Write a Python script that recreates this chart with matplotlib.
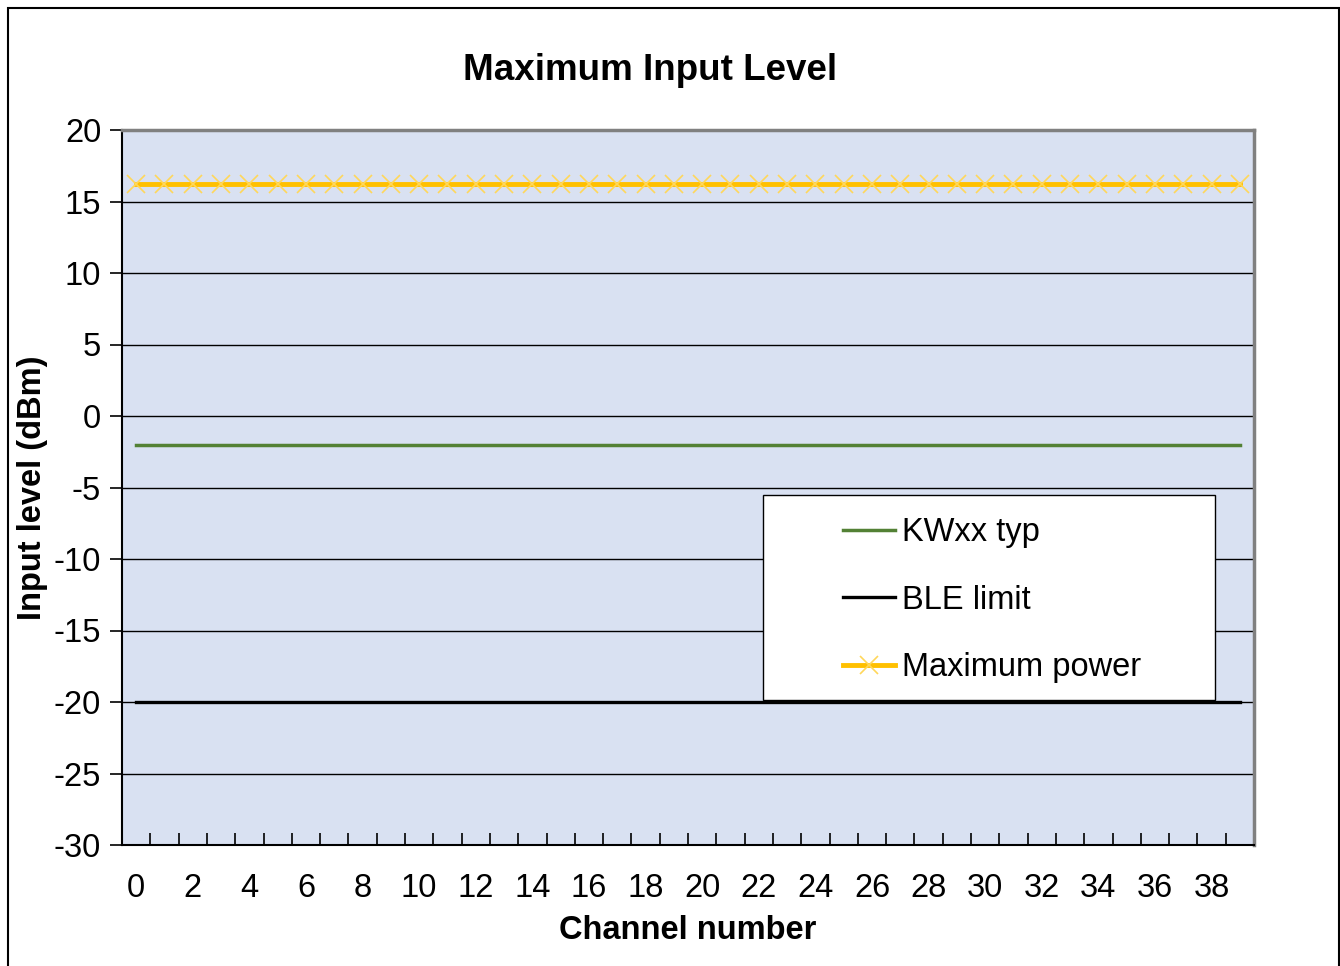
import matplotlib
matplotlib.use("Agg")
import matplotlib.pyplot as plt
from matplotlib.patches import Rectangle

plt.rcParams['font.family'] = ['Liberation Sans', 'DejaVu Sans']
plt.rcParams['axes.unicode_minus'] = False

# data
channels = list(range(40))
kwxx_typ = [-2.0] * 40
ble_limit = [-20.0] * 40
max_power = [16.2] * 40

y_ticks = list(range(-30, 21, 5))
x_labels = list(range(0, 40, 2))

fs = 23.5

fig = plt.figure(figsize=(13.4, 9.66), dpi=100)
ax = fig.add_axes([122 / 1340, 1 - 845 / 966, 1132 / 1340, 715 / 966])
ax.set_facecolor('#D9E1F2')

ax.plot(channels, kwxx_typ, color='#538135', lw=2.5, label='KWxx typ', zorder=3)
ax.plot(channels, ble_limit, color='black', lw=2.4, label='BLE limit', zorder=3)
ax.plot(channels, max_power, color='#FFC000', lw=3.5, marker='x', markersize=13,
        markeredgecolor='#FFD75A', markeredgewidth=1.2, label='Maximum power', zorder=3)

ax.set_xlim(-0.5, 39.5)
ax.set_ylim(-30, 20)
ax.set_yticks(y_ticks)
ax.set_xticks(x_labels)
ax.set_xticks([c - 0.5 for c in range(41)], minor=True)
ax.tick_params(axis='x', which='major', length=0, pad=20, labelsize=fs)
ax.tick_params(axis='x', which='minor', direction='in', length=9, width=1.2)
ax.tick_params(axis='y', which='major', direction='out', length=9, width=1.2, pad=6, labelsize=fs)
ax.grid(True, axis='y', color='black', lw=1)
ax.set_axisbelow(True)

for s in ['left', 'bottom']:
    ax.spines[s].set_color('black')
    ax.spines[s].set_linewidth(1.5)
for s in ['top', 'right']:
    ax.spines[s].set_color('#808080')
    ax.spines[s].set_linewidth(2.5)

ax.set_xlabel('Channel number', fontsize=fs, fontweight='bold', labelpad=8)
ax.set_ylabel('Input level (dBm)', fontsize=fs, fontweight='bold', labelpad=4)
fig.text(650 / 1340, 1 - 71 / 966, 'Maximum Input Level', fontsize=26.5,
         fontweight='bold', ha='center', va='center')

# legend box
ax.add_patch(Rectangle(((763 - 122) / 1132, (845 - 700) / 715), 452 / 1132, 205 / 715,
                       transform=ax.transAxes, facecolor='white', edgecolor='black',
                       lw=1, zorder=4))
leg = ax.legend(loc='upper left', bbox_to_anchor=((843 - 122) / 1132, (845 - 517) / 715),
                frameon=False, fontsize=fs, handlelength=1.6, handletextpad=0.2,
                labelspacing=1.12, borderpad=0, borderaxespad=0)
leg.set_zorder(5)

fig.patches.append(Rectangle((8 / 1340, -0.01), 1331 / 1340, 1.01 - 8 / 966,
                             transform=fig.transFigure, fill=False,
                             edgecolor='black', lw=1.5))

fig.savefig('out.png', dpi=100)
